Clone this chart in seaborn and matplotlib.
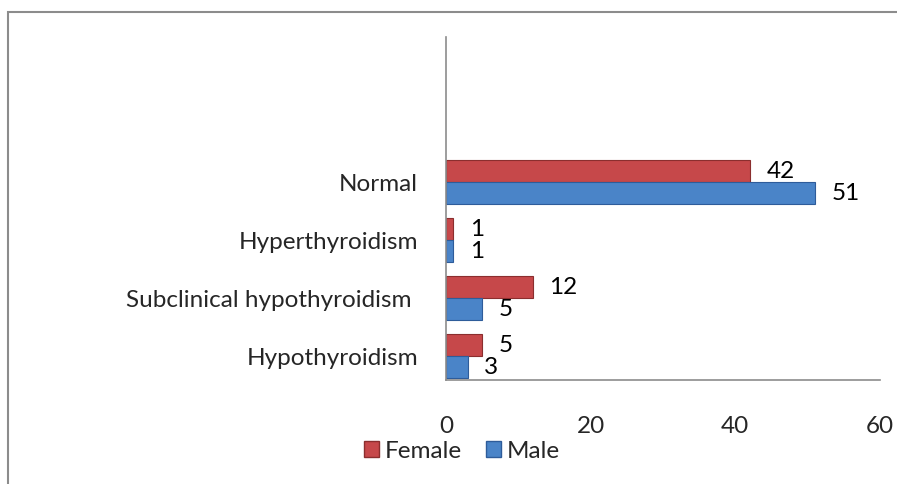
import seaborn as sns
import pandas as pd
import matplotlib.pyplot as plt
from matplotlib.patches import Rectangle, Patch

categories = ['Normal', 'Hyperthyroidism', 'Subclinical hypothyroidism ', 'Hypothyroidism']
female = [42, 1, 12, 5]
male = [51, 1, 5, 3]
x_ticks = [0, 20, 40, 60]

RED = '#C6484A'
BLUE = '#4A84C8'
RED_EDGE = '#8B2E2E'
BLUE_EDGE = '#2E5C9A'


def build_frame():
    rows = []
    for cat, f, m in zip(categories, female, male):
        rows.append({'Category': cat, 'Sex': 'Female', 'Count': f})
        rows.append({'Category': cat, 'Sex': 'Male', 'Count': m})
    return pd.DataFrame(rows)


def main():
    df = build_frame()
    sns.set_theme(style='white')
    plt.rcParams['font.family'] = ['Lato', 'DejaVu Sans']
    fs = 17.5

    fig = plt.figure(figsize=(8.97, 4.84), dpi=100)
    ax = fig.add_axes([446 / 897, 1 - 380 / 484, 434 / 897, 343 / 484])

    sns.barplot(data=df, y='Category', x='Count', hue='Sex', order=categories,
                hue_order=['Female', 'Male'], palette=[RED, BLUE], saturation=1,
                width=0.76, orient='h', ax=ax, legend=False,
                edgecolor=RED_EDGE, linewidth=0.8)
    for bar in ax.containers[1]:
        bar.set_edgecolor(BLUE_EDGE)

    for cont in ax.containers:
        ax.bar_label(cont, padding=12, fontsize=fs, color='black')

    ax.set_xlim(0, 60)
    ax.set_ylim(3.41, -2.5)
    ax.set_xticks(x_ticks)
    ax.tick_params(axis='x', pad=26, labelsize=fs, length=0)
    ax.tick_params(axis='y', pad=20, labelsize=fs, length=0)
    ax.set_xlabel('')
    ax.set_ylabel('')

    for side in ['top', 'right']:
        ax.spines[side].set_visible(False)
    for side in ['left', 'bottom']:
        ax.spines[side].set_color('#8c8c8c')
        ax.spines[side].set_linewidth(1.2)

    handles = [Patch(facecolor=RED, edgecolor=RED_EDGE, label='Female'),
               Patch(facecolor=BLUE, edgecolor=BLUE_EDGE, label='Male')]
    fig.legend(handles=handles, loc='center', bbox_to_anchor=(462 / 897, 1 - 451 / 484),
               ncol=2, frameon=False, fontsize=fs, handlelength=0.6, handleheight=0.6,
               handletextpad=0.25, columnspacing=1.0, borderpad=0)

    # outer chart border, cropped on the right and bottom
    fig.patches.append(Rectangle((8 / 897, -0.1), 1.2, 1 - 12 / 484 + 0.1,
                                 transform=fig.transFigure, fill=False,
                                 edgecolor='#8c8c8c', linewidth=1.5))

    fig.savefig('out.png', dpi=100)


if __name__ == '__main__':
    main()
